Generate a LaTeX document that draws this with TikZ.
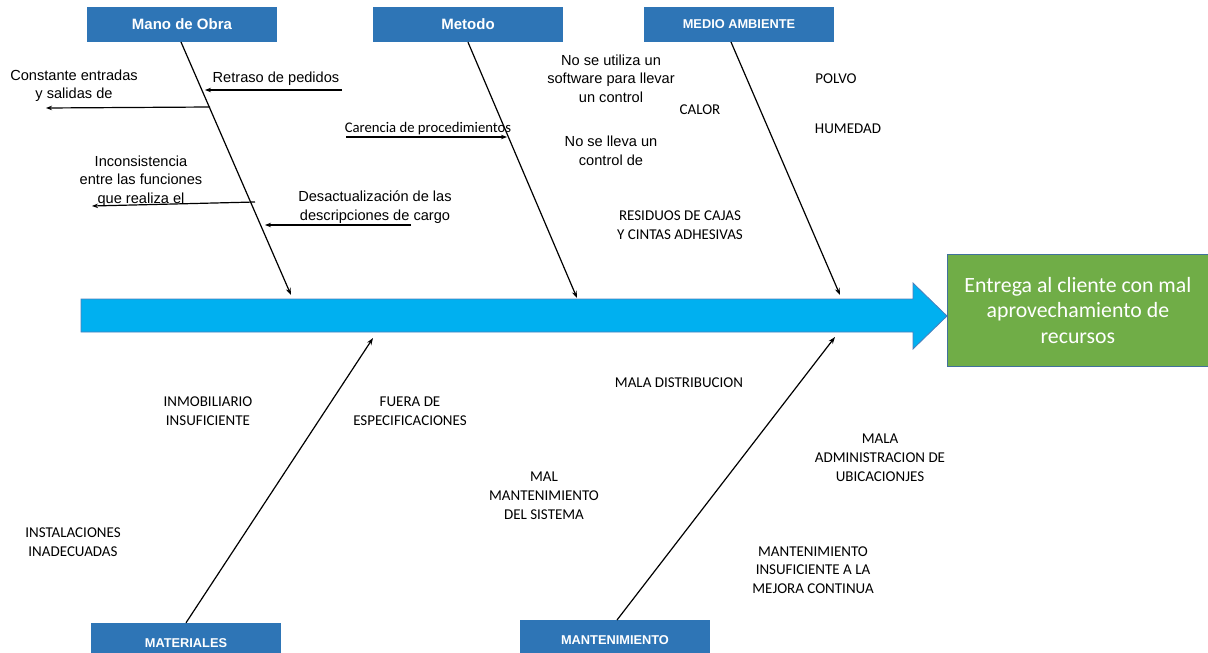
\documentclass[tikz,border=0pt]{standalone}
\usepackage{fontspec}
\setmainfont{Liberation Sans}
\newfontfamily\calib{Carlito}
\usetikzlibrary{arrows.meta}
\definecolor{hdrblue}{HTML}{2E75B6}
\definecolor{arrowcyan}{HTML}{00B0F0}
\definecolor{arrowedge}{HTML}{4A7EBB}
\definecolor{boxgreen}{HTML}{70AD47}
\definecolor{boxedge}{HTML}{41719C}
\tikzset{
  hdr/.style={fill=hdrblue, draw=none, minimum width=190pt, minimum height=35pt, inner sep=0pt, text=white, font=\bfseries\fontsize{15}{17}\selectfont},
  hdrsmall/.style={hdr, font=\bfseries\fontsize{12.8}{14}\selectfont},
  bone/.style={line width=1.2pt, draw=black, -{Stealth[length=7pt,width=5pt]}},
  sub/.style={line width=1.2pt, draw=black, -{Stealth[length=6pt,width=4.5pt]}},
  lbl/.style={align=center, inner sep=0pt, font=\fontsize{14.6}{18.5}\selectfont},
  captxt/.style={align=center, inner sep=0pt, font=\calib\fontsize{15}{18.8}\selectfont},
}
\begin{document}
\begin{tikzpicture}[x=1pt,y=-1pt]
\useasboundingbox (0,0) rectangle (1208,653);
% headers
\node[hdr] (mo) at (182,24.5) {\raisebox{-1.5pt}{Mano de Obra}};
\node[hdr] (me) at (468,24.5) {\raisebox{-1.5pt}{Metodo}};
\node[hdrsmall] (ma) at (739,24.5) {\raisebox{-1pt}{MEDIO AMBIENTE}};
\node[hdrsmall, minimum height=40pt] (mat) at (186,643) {MATERIALES};
\node[hdrsmall, minimum height=40pt] (man) at (615,640) {MANTENIMIENTO};
% main arrow
\path[fill=arrowcyan, draw=arrowedge, line width=0.8pt]
  (81,299) -- (913,299) -- (913,283) -- (947,316) -- (913,349) -- (913,332) -- (81,332) -- cycle;
% effect box
\node[fill=boxgreen, draw=boxedge, line width=0.8pt, minimum width=261pt, minimum height=112pt, inner sep=0pt, anchor=north west, text=white, align=center, font=\calib\fontsize{21.8}{25.5}\selectfont] (eff) at (947,254) {Entrega al cliente con mal\\aprovechamiento de\\recursos};
% bone endpoints
\coordinate (moS) at (181,42);
\coordinate (maS) at (731,42);
\coordinate (manS) at (617,620);
\coordinate (moE) at (291,295);
\coordinate (meE) at (577,298);
\coordinate (maE) at (840,295);
\coordinate (matE) at (373,338);
\coordinate (manE) at (835,337);
\draw[bone] (moS) -- (moE);
\draw[bone] (me.south) -- (meE);
\draw[bone] (maS) -- (maE);
\draw[bone] (mat.north) -- (matE);
\draw[bone] (manS) -- (manE);
% sub causes Mano de Obra
\node[lbl] (t1) at (276,79) {Retraso de pedidos};
\coordinate (r1a) at (342,90); \coordinate (r1b) at (205,90);
\draw[sub] (r1a) -- (r1b);
\node[lbl] (t2) at (74,85.5) {Constante entradas\\y salidas de};
\coordinate (r2a) at (210,107); \coordinate (r2b) at (46,108);
\draw[sub] (r2a) -- (r2b);
\node[lbl] (t3) at (141,181) {Inconsistencia\\entre las funciones\\que realiza el};
\coordinate (r3a) at (255,202); \coordinate (r3b) at (92,206);
\draw[sub] (r3a) -- (r3b);
\node[lbl] (t4) at (375,207) {Desactualización de las\\descripciones de cargo};
\coordinate (r4a) at (411,225); \coordinate (r4b) at (265,225);
\draw[sub] (r4a) -- (r4b);
% Metodo
\node[captxt, font=\calib\fontsize{14.7}{16}\selectfont] (t5) at (428,129) {Carencia de procedimientos};
\coordinate (r5a) at (346,137); \coordinate (r5b) at (507,137);
\draw[sub] (r5a) -- (r5b);
\node[lbl] (t6) at (611,78.5) {No se utiliza un\\software para llevar\\un control};
\node[lbl] (t7) at (611,151) {No se lleva un\\control de};
% Medio ambiente
\node[captxt] (t8) at (700,110) {CALOR};
\node[captxt] (t9) at (836,79) {POLVO};
\node[captxt] (t10) at (848,129) {HUMEDAD};
\node[captxt] (t11) at (680,225) {RESIDUOS DE CAJAS\\Y CINTAS ADHESIVAS};
% Materiales
\node[captxt] (t12) at (208,411.5) {INMOBILIARIO\\INSUFICIENTE};
\node[captxt] (t13) at (410,411.5) {FUERA DE\\ESPECIFICACIONES};
\node[captxt] (t14) at (73,542) {INSTALACIONES\\INADECUADAS};
% Mantenimiento
\node[captxt] (t15) at (679,383) {MALA DISTRIBUCION};
\node[captxt] (t16) at (544,496) {MAL\\MANTENIMIENTO\\DEL SISTEMA};
\node[captxt] (t17) at (880,458) {MALA\\ADMINISTRACION DE\\UBICACIONJES};
\node[captxt] (t18) at (813,570) {MANTENIMIENTO\\INSUFICIENTE A LA\\MEJORA CONTINUA};
\end{tikzpicture}
\end{document}
